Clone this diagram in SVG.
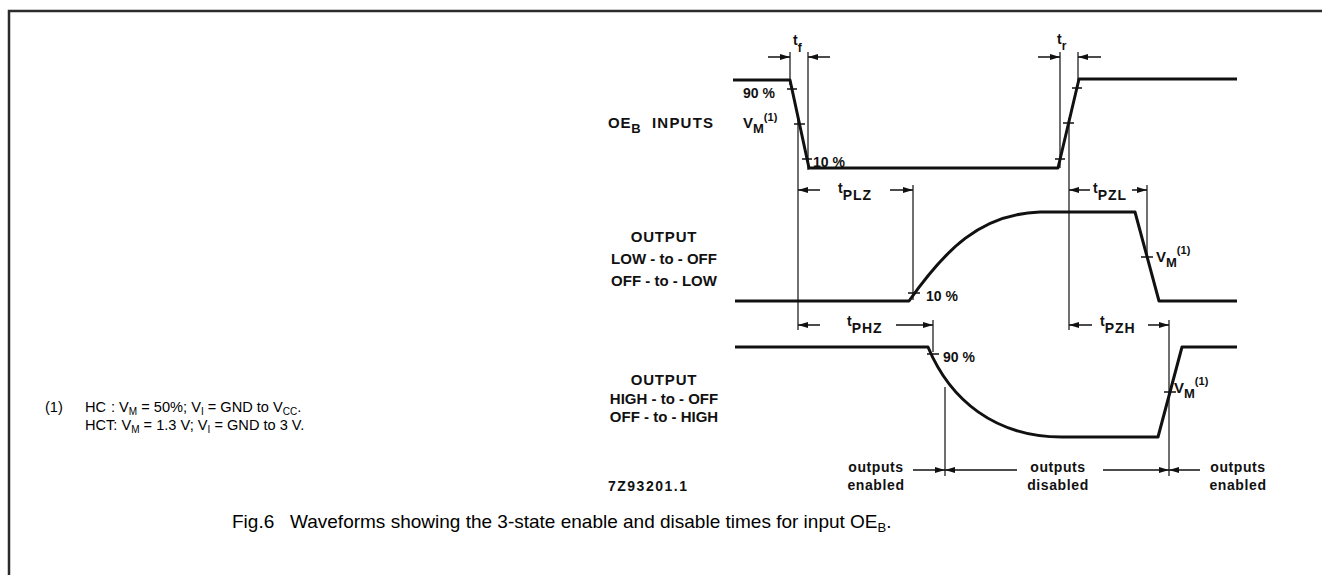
<svg xmlns="http://www.w3.org/2000/svg" width="1322" height="575" viewBox="0 0 1322 575">
<style>
.frame{fill:none;stroke:#2b2b2b;stroke-width:2.5}
.wave{fill:none;stroke:#111;stroke-width:3;stroke-linejoin:round}
.ref{fill:none;stroke:#111;stroke-width:1.2}
.tick{fill:none;stroke:#111;stroke-width:1.5}
.dim{fill:none;stroke:#111;stroke-width:1.5;marker-end:url(#ah)}
.lbl{font-family:"Liberation Sans",Arial,sans-serif;font-weight:bold;font-size:15px;fill:#111}
.sm{font-family:"Liberation Sans",Arial,sans-serif;font-weight:bold;font-size:14px;fill:#111}
.cap{font-family:"Liberation Sans",Arial,sans-serif;font-size:19px;fill:#000}
.note{font-family:"Liberation Sans",Arial,sans-serif;font-size:14.6px;fill:#000}
</style>
<defs>
<marker id="ah" viewBox="0 0 10 6" refX="10" refY="3" markerWidth="10" markerHeight="6" orient="auto" markerUnits="userSpaceOnUse"><path d="M0,0 L10,3 L0,6 z" fill="#111"/></marker>
</defs>
<g id="frame"><path class="frame" d="M9,575 V11 H1322"/></g>

<g id="waveforms">
<path id="oe-input" class="wave" d="M733,80 H790 L809,168 H1058 L1079,79 H1237"/>
<path id="out-low" class="wave" d="M735,301 H909 C945,250 980,214 1040,212 H1135 L1159,301 H1237"/>
<path id="out-high" class="wave" d="M735,347 H928 C950,400 995,437 1062,437 H1158 L1182,347 H1237"/>
</g>

<g id="ticks">
<path class="tick" d="M787,89 h10 M794,124 h11 M802,159 h10 M1055,159 h10 M1063,123 h11 M1072,88 h10 M908,293 h12 M1141,257 h12 M927,354 h12 M1164,392 h12"/>
</g>

<g id="connectors">
<path class="ref" d="M790,52 V85 M808,52 V170 M798,118 V330 M913,185 V300 M933,320 V352 M1060,52 V168 M1078,52 V82 M1069,118 V330 M1147,185 V258 M1169,320 V476 M945,387 V476"/>
<path class="dim" d="M768,57 H790"/>
<path class="dim" d="M830,57 H808"/>
<path class="dim" d="M1038,57 H1060"/>
<path class="dim" d="M1101,57 H1078"/>
<path class="dim" d="M820,190 H798"/>
<path class="dim" d="M890,190 H913"/>
<path class="dim" d="M1090,190 H1069"/>
<path class="dim" d="M1132,190 H1147"/>
<path class="dim" d="M820,325 H798"/>
<path class="dim" d="M896,325 H933"/>
<path class="dim" d="M1092,325 H1069"/>
<path class="dim" d="M1148,325 H1169"/>
<path class="dim" d="M913,470 H945"/>
<path class="dim" d="M1017,470 H945"/>
<path class="dim" d="M1103,470 H1169"/>
<path class="dim" d="M1200,470 H1169"/>
</g>

<g id="labels">
<text class="sm" x="793" y="45">t<tspan font-size="12" dy="7">f</tspan></text>
<text class="sm" x="1057" y="44">t<tspan font-size="12" dy="6">r</tspan></text>
<text class="lbl" x="608" y="128" letter-spacing="0.8">OE<tspan font-size="13" dy="5">B</tspan></text>
<text class="lbl" x="652" y="128" letter-spacing="1.2">INPUTS</text>
<text class="sm" x="743" y="98" font-size="15">90 %</text>
<text class="lbl" x="743" y="128">V<tspan font-size="13" dy="5">M</tspan><tspan font-size="11" dy="-12">(1)</tspan></text>
<text class="sm" x="813" y="167" font-size="15">10 %</text>

<text class="sm" x="838" y="193" font-size="12">t<tspan font-size="14" dy="7" letter-spacing="1">PLZ</tspan></text>
<text class="sm" x="1093" y="193" font-size="12">t<tspan font-size="14" dy="7" letter-spacing="1">PZL</tspan></text>
<text class="sm" x="847" y="326" font-size="12">t<tspan font-size="14" dy="7" letter-spacing="1">PHZ</tspan></text>
<text class="sm" x="1100" y="326" font-size="12">t<tspan font-size="14" dy="7" letter-spacing="1">PZH</tspan></text>

<text class="lbl" x="664" y="242" text-anchor="middle" letter-spacing="0.8">OUTPUT</text>
<text class="lbl" x="664" y="264" text-anchor="middle">LOW - to - OFF</text>
<text class="lbl" x="664" y="286" text-anchor="middle">OFF - to - LOW</text>
<text class="sm" x="926" y="301" font-size="15">10 %</text>
<text class="lbl" x="1156" y="262">V<tspan font-size="13" dy="5">M</tspan><tspan font-size="11" dy="-13">(1)</tspan></text>

<text class="lbl" x="664" y="385" text-anchor="middle" letter-spacing="0.8">OUTPUT</text>
<text class="lbl" x="664" y="404" text-anchor="middle">HIGH - to - OFF</text>
<text class="lbl" x="664" y="422" text-anchor="middle">OFF - to - HIGH</text>
<text class="sm" x="943" y="362" font-size="15">90 %</text>
<text class="lbl" x="1174" y="393">V<tspan font-size="13" dy="5">M</tspan><tspan font-size="11" dy="-13">(1)</tspan></text>

<text class="sm" x="876" y="472" text-anchor="middle" letter-spacing="0.6">outputs</text>
<text class="sm" x="876" y="490" text-anchor="middle" letter-spacing="0.6">enabled</text>
<text class="sm" x="1058" y="472" text-anchor="middle" letter-spacing="0.6">outputs</text>
<text class="sm" x="1058" y="490" text-anchor="middle" letter-spacing="0.6">disabled</text>
<text class="sm" x="1238" y="472" text-anchor="middle" letter-spacing="0.6">outputs</text>
<text class="sm" x="1238" y="490" text-anchor="middle" letter-spacing="0.6">enabled</text>
<text class="sm" x="608" y="491" letter-spacing="1.5" font-size="13">7Z93201.1</text>
</g>

<g id="note">
<text class="note" x="45" y="412">(1)</text>
<text class="note" x="85" y="412">HC<tspan x="111">: V</tspan><tspan font-size="10" dy="2.5">M</tspan><tspan dy="-2.5"> = 50%; V</tspan><tspan font-size="10" dy="2.5">I</tspan><tspan dy="-2.5"> = GND to V</tspan><tspan font-size="10" dy="2.5">CC</tspan><tspan dy="-2.5">.</tspan></text>
<text class="note" x="85" y="430">HCT: V<tspan font-size="10" dy="2.5">M</tspan><tspan dy="-2.5"> = 1.3 V; V</tspan><tspan font-size="10" dy="2.5">I</tspan><tspan dy="-2.5"> = GND to 3 V.</tspan></text>
</g>

<g id="caption">
<text class="cap" x="232" y="528">Fig.6<tspan x="290">Waveforms showing the 3-state enable and disable times for input OE</tspan><tspan font-size="13" dy="4">B</tspan><tspan dy="-4">.</tspan></text>
</g>
</svg>
